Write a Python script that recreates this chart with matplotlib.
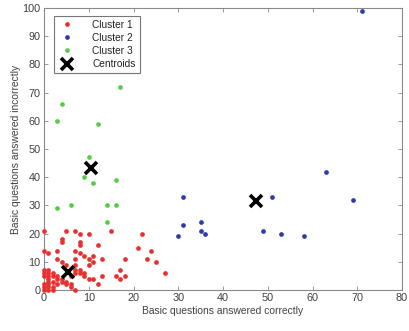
import matplotlib
matplotlib.use("Agg")
import matplotlib.pyplot as plt

plt.rcParams['font.family'] = ['Liberation Sans', 'DejaVu Sans']

# Cluster 1: (correct, incorrect)
c1_x = [0, 0, 1, 0, 3, 3, 4, 4, 5, 4, 7, 8, 7, 8, 8, 9, 8, 7, 10, 10, 11, 11, 10,
        12, 13, 15, 22, 21, 24, 23, 25, 27, 18, 17, 16, 17, 18, 13, 12, 11, 10,
        9, 9, 8, 8, 7, 7, 7, 7, 6, 6, 5, 5, 4, 4, 3, 3, 3, 2, 2, 2, 2, 2,
        1, 1, 1, 1, 1, 1, 1, 1, 0, 0, 0, 5, 6, 0, 0]
c1_y = [21, 14, 13, 7, 14, 11, 18, 17, 21, 10, 21, 20, 14, 17, 16, 12, 13, 11, 20, 11, 12, 10, 9,
        16, 11, 21, 20, 15, 14, 11, 10, 6, 11, 7, 5, 4, 5, 5, 2, 4, 4,
        5, 6, 7, 6, 7, 6, 9, 0, 2, 1, 3, 2, 4, 3, 5, 4, 2, 6, 5, 3, 1, 0,
        7, 6, 5, 4, 3, 2, 1, 0, 2, 1, 0, 9, 5, 5, 6]

# Cluster 2
c2_x = [71, 63, 69, 51, 49, 53, 58, 31, 31, 30, 35, 35, 36]
c2_y = [99, 42, 32, 33, 21, 20, 19, 33, 23, 19, 24, 21, 20]

# Cluster 3
c3_x = [3, 4, 3, 6, 17, 12, 10, 9, 11, 16, 14, 16, 14]
c3_y = [29, 66, 60, 30, 72, 59, 47, 40, 38, 39, 30, 30, 24]

# Cluster centres
cent_x = [5.3, 47.3, 10.5]
cent_y = [6.3, 31.4, 43.4]

x_ticks = [0, 10, 20, 30, 40, 50, 60, 70, 80]
y_ticks = [0, 10, 20, 30, 40, 50, 60, 70, 80, 90, 100]

fig = plt.figure(figsize=(4.09, 3.31), dpi=100)
ax = fig.add_axes([0.1076, 0.1239, 0.8753, 0.8519])

ms = 3.4
ax.plot(c1_x, c1_y, 'o', color='#e8302e', ms=ms, mec='none', label='Cluster 1', clip_on=False, zorder=3)
ax.plot(c2_x, c2_y, 'o', color='#2d3caa', ms=ms, mec='none', label='Cluster 2', clip_on=False, zorder=3)
ax.plot(c3_x, c3_y, 'o', color='#58cc48', ms=ms, mec='none', label='Cluster 3', clip_on=False, zorder=3)
ax.plot(cent_x, cent_y, 'x', color='black', ms=9, mew=2.6, label='Centroids', clip_on=False, zorder=4)

ax.set_xlim(0, 80)
ax.set_ylim(0, 100)
ax.set_xticks(x_ticks)
ax.set_yticks(y_ticks)

text_col = '#404040'
for s in ax.spines.values():
    s.set_color('#8a8a8a')
    s.set_linewidth(0.8)
ax.tick_params(direction='in', length=3, width=0.6, color='#8a8a8a',
               labelcolor=text_col, labelsize=7.8, top=True, right=True, pad=2.5)

ax.set_xlabel('Basic questions answered correctly', fontsize=7.4, color=text_col, labelpad=1.5)
ax.set_ylabel('Basic questions answered incorrectly', fontsize=7.4, color=text_col, labelpad=1)

leg = ax.legend(loc='upper left', bbox_to_anchor=(0.027, 0.972), fontsize=7.3,
                frameon=True, fancybox=False, borderpad=0.4, labelspacing=0.3,
                handlelength=1.8, handletextpad=1.6, borderaxespad=0)
leg.get_frame().set_edgecolor('#555555')
leg.get_frame().set_linewidth(0.8)
for t in leg.get_texts():
    t.set_color('#222222')

fig.savefig('out.png', dpi=100)
